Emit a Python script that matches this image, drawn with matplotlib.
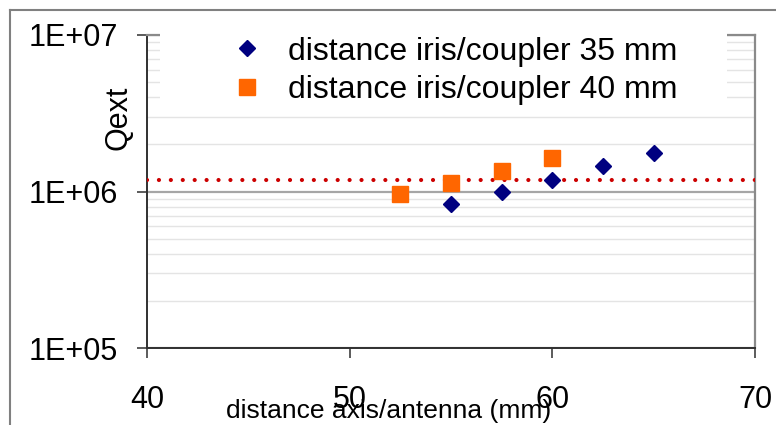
import matplotlib
matplotlib.use("Agg")
import matplotlib.pyplot as plt
from matplotlib.patches import Rectangle
from matplotlib.lines import Line2D
from matplotlib.ticker import LogLocator, NullFormatter

plt.rcParams["font.family"] = ["Liberation Sans", "DejaVu Sans"]

# data
x_35 = [55, 57.5, 60, 62.5, 65]
q_35 = [0.834e6, 0.99e6, 1.19e6, 1.45e6, 1.76e6]
x_40 = [52.5, 55, 57.5, 60]
q_40 = [0.957e6, 1.137e6, 1.36e6, 1.64e6]
q_target = 1.18e6
label_35 = "distance iris/coupler 35 mm"
label_40 = "distance iris/coupler 40 mm"
x_ticks = [40, 50, 60, 70]
y_ticks = [1e5, 1e6, 1e7]
y_ticklabels = ["1E+05", "1E+06", "1E+07"]

fig = plt.figure(figsize=(7.76, 4.25), dpi=100)
ax = fig.add_axes([147 / 776, 1 - 348 / 425, 608 / 776, 313 / 425])

ax.set_yscale("log")
ax.set_xlim(40, 70)
ax.set_ylim(1e5, 1e7)

# gridlines, excel style
ax.yaxis.set_minor_locator(LogLocator(base=10, subs=range(2, 10)))
ax.yaxis.set_minor_formatter(NullFormatter())
ax.grid(True, which="major", axis="y", color="#a6a6a6", linewidth=1.6, zorder=0)
ax.grid(True, which="minor", axis="y", color="#e4e4e4", linewidth=1.0, zorder=0)
ax.set_axisbelow(True)

ax.axhline(q_target, color="#cc0000", linewidth=3.0, linestyle=(0, (0.01, 2.85)),
           dash_capstyle="round", zorder=3)

ax.plot(x_35, q_35, linestyle="none", marker="D", markersize=8.0,
        color="#000080", label=label_35, zorder=5)
ax.plot(x_40, q_40, linestyle="none", marker="s", markersize=11.2,
        color="#ff6600", label=label_40, zorder=4)

ax.set_xticks(x_ticks)
ax.set_yticks(y_ticks)
ax.set_yticklabels(y_ticklabels)
ax.tick_params(axis="both", which="major", labelsize=22, length=7, width=1.2, color="#404040")
ax.tick_params(axis="y", which="minor", length=0)
ax.tick_params(axis="x", pad=20)
ax.tick_params(axis="y", pad=14)

for side in ["left", "bottom"]:
    ax.spines[side].set_color("#303030")
    ax.spines[side].set_linewidth(1.4)
for side in ["right", "top"]:
    ax.spines[side].set_color("#8a8a8a")
    ax.spines[side].set_linewidth(1.6)

# white box behind legend hides the top of the plot
ax.add_patch(Rectangle((0.021, 0.76), 0.933, 0.26, transform=ax.transAxes,
                       facecolor="white", edgecolor="none", zorder=6, clip_on=False))
leg = ax.legend(loc="upper left", bbox_to_anchor=(0.112, 0.995), frameon=False,
                fontsize=23, borderpad=0, borderaxespad=0, labelspacing=0.27,
                handletextpad=0.28, handlelength=2.0, numpoints=1)
leg.set_zorder(7)

fig.text(389 / 776, 1 - 418 / 425, "distance axis/antenna (mm)", fontsize=19,
         ha="center", va="baseline")
fig.text(118 / 776, 1 - 118 / 425, "Qext", fontsize=22, rotation=90,
         ha="center", va="center")

# outer chart border
fig.add_artist(Line2D([10 / 776, 10 / 776], [0, 1 - 10 / 425], color="#808080", linewidth=1.5))
fig.add_artist(Line2D([10 / 776, 1], [1 - 10 / 425, 1 - 10 / 425], color="#808080", linewidth=1.5))

fig.savefig("out.png", dpi=100)
